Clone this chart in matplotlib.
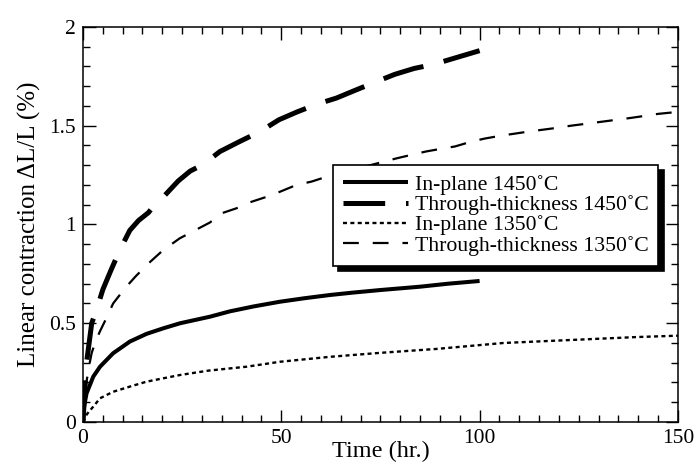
import matplotlib.pyplot as plt

plt.rcParams['font.family'] = ['Liberation Serif', 'DejaVu Serif']
plt.rcParams['lines.scale_dashes'] = False

# in-plane, 1450 C
t_ip1450 = [0, 0.3, 0.9, 2.6, 4.3, 7.6, 11.8, 16, 20.2, 24.5, 32, 37, 43, 49.7,
            56, 62.3, 68, 74.9, 85, 92, 100]
dl_ip1450 = [0, 0.08, 0.145, 0.23, 0.28, 0.348, 0.407, 0.446, 0.474, 0.50, 0.533,
             0.56, 0.585, 0.609, 0.627, 0.643, 0.655, 0.668, 0.685, 0.70, 0.714]

# through-thickness, 1450 C
t_tt1450 = [0, 0.5, 0.9, 2.2, 3.4, 5, 7, 9.2, 11.8, 14, 16.5, 18.5, 20.7, 24, 27,
            29.9, 32, 34.5, 39.5, 44.6, 49.4, 54, 59.1, 63.9, 68.7, 73.6, 78.6,
            83.5, 88.3, 93.3, 100]
dl_tt1450 = [0, 0.18, 0.30, 0.50, 0.567, 0.67, 0.766, 0.867, 0.97, 1.02, 1.06,
             1.11, 1.149, 1.22, 1.27, 1.30, 1.33, 1.369, 1.42, 1.47, 1.53, 1.57,
             1.61, 1.64, 1.68, 1.72, 1.76, 1.79, 1.81, 1.84, 1.88]

# in-plane, 1350 C
t_ip1350 = [0, 1, 2.6, 4.3, 7.6, 11.8, 16, 20.2, 24.5, 31.6, 41.3, 49.7, 62.3,
            74.9, 89.2, 106, 122.8, 139.6, 150]
dl_ip1350 = [0, 0.04, 0.078, 0.12, 0.153, 0.179, 0.204, 0.221, 0.238, 0.26, 0.28,
             0.305, 0.33, 0.35, 0.37, 0.40, 0.415, 0.43, 0.437]

# through-thickness, 1350 C
t_tt1350 = [0, 0.7, 1.5, 2.2, 3.2, 4.3, 6, 7.6, 10.7, 13.4, 16.9, 20.2, 24.4, 28.2,
            32, 35, 38.7, 42.5, 46.3, 49.7, 53.8, 57.6, 61, 66, 72.4, 79.1, 83.3,
            86.6, 90.8, 93.8, 98, 101.3, 105.5, 108.9, 112.2, 116, 119.8, 123,
            126.9, 130.7, 134.5, 138.3, 141.7, 145, 150]
dl_tt1350 = [0, 0.18, 0.28, 0.35, 0.41, 0.46, 0.53, 0.60, 0.68, 0.74, 0.81, 0.87,
             0.93, 0.97, 1.01, 1.057, 1.082, 1.115, 1.14, 1.166, 1.20, 1.217,
             1.239, 1.27, 1.30, 1.335, 1.355, 1.37, 1.385, 1.395, 1.42, 1.435,
             1.45, 1.46, 1.47, 1.48, 1.49, 1.50, 1.51, 1.52, 1.53, 1.54, 1.55,
             1.56, 1.57]

fig = plt.figure(figsize=(6.95, 4.65), dpi=100)
ax = fig.add_axes([0.1194, 0.0925, 0.856, 0.8495])

ax.plot(t_ip1450, dl_ip1450, color='k', lw=2.9, solid_capstyle='butt',
        label='In-plane 1450˚C')
ax.plot(t_tt1450, dl_tt1450, color='k', lw=3.6, dashes=(30, 15),
        label='Through-thickness 1450˚C')
ax.plot(t_ip1350, dl_ip1350, color='k', lw=1.7, dashes=(2.9, 2.4),
        label='In-plane 1350˚C')
ax.plot(t_tt1350, dl_tt1350, color='k', lw=1.6, dashes=(11.4, 10),
        label='Through-thickness 1350˚C')

ax.set_xlim(0, 150)
ax.set_ylim(0, 2)
ax.set_xticks([0, 50, 100, 150])
ax.set_xticks(range(0, 151, 5), minor=True)
ax.set_yticks([0, 0.5, 1, 1.5, 2])
ax.set_yticklabels(['0', '0.5', '1', '1.5', '2'])
ax.set_yticks([i / 10 for i in range(21)], minor=True)
ax.tick_params(which='both', direction='in', top=True, right=True,
               labelsize=15.5, width=1)
ax.tick_params(axis='x', pad=5)
ax.tick_params(axis='y', pad=5)
ax.tick_params(which='major', length=9)
ax.tick_params(which='minor', length=5)
for s in ax.spines.values():
    s.set_linewidth(1.1)

ax.set_xlabel('Time (hr.)', fontsize=17.5, labelpad=-5)
ax.set_ylabel('Linear contraction ΔL/L (%)', fontsize=18, labelpad=6)

leg = ax.legend(loc='upper left', bbox_to_anchor=(0.42, 0.651), borderaxespad=0,
                fontsize=15.7, frameon=True, fancybox=False, framealpha=1,
                edgecolor='k', handlelength=3.0, handletextpad=0.3,
                labelspacing=0.0, borderpad=0.45,
                shadow={'color': 'k', 'alpha': 1, 'ox': 4, 'oy': -4})
leg.get_frame().set_linewidth(1.2)

fig.savefig('out.png', dpi=100)
